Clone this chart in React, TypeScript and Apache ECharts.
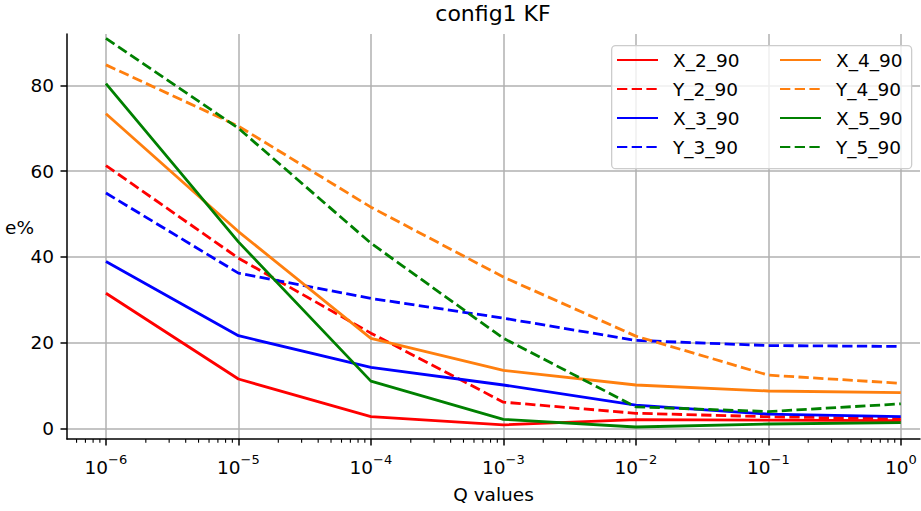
import React, { useEffect, useRef } from "react";
import * as echarts from "echarts";

const QExp = [-6, -5, -4, -3, -2, -1, 0];
const X_2_90 = [31.5, 11.5, 2.7, 0.8, 2.0, 1.9, 1.8];
const Y_2_90 = [61.3, 39.7, 22.2, 6.1, 3.5, 2.7, 2.2];
const X_3_90 = [38.9, 21.6, 14.2, 10.1, 5.4, 3.3, 2.7];
const Y_3_90 = [54.9, 36.2, 30.3, 25.7, 20.5, 19.3, 19.1];
const X_4_90 = [73.4, 45.9, 21.0, 13.5, 10.1, 8.7, 8.3];
const Y_4_90 = [84.8, 70.5, 51.6, 35.3, 21.5, 12.4, 10.5];
const X_5_90 = [80.4, 43.5, 11.0, 2.1, 0.3, 1.0, 1.3];
const Y_5_90 = [91.0, 70.0, 43.2, 21.0, 5.0, 3.9, 5.7];
const yTicks = [0, 20, 40, 60, 80];
const minorTicks: number[] = [];
for (let n = -7; n <= 0; n++) {
  for (let k = 2; k <= 9; k++) {
    const v = Math.log10(k) + n;
    if (v > -6.294 && v < 0.145) minorTicks.push(v);
  }
}

const FONT = "DejaVu Sans";
const RED = "#ff0000";
const BLUE = "#0000ff";
const ORANGE = "#ff7f0e";
const GREEN = "#008000";
const DASH = [10.3, 4.4];

export default function App() {
  const ref = useRef<HTMLDivElement>(null);
  useEffect(() => {
    if (!ref.current) return;
    const chart = echarts.init(ref.current, undefined, { renderer: "svg" });
    const mk = (name: string, vals: number[], color: string, dashed: boolean) => ({
      name,
      type: "line",
      data: QExp.map((e, i) => [e, vals[i]]),
      symbol: "none",
      z: 3,
      lineStyle: { color, width: 2.8, type: dashed ? DASH : "solid" },
      itemStyle: { color },
    });
    const legendBase = {
      orient: "vertical",
      top: 50,
      padding: 0,
      itemWidth: 41,
      itemHeight: 14,
      itemGap: 9,
      z: 5,
      itemStyle: { opacity: 0 },
      formatter: (name: string) => `{t|${name}}`,
      textStyle: {
        fontFamily: FONT,
        fontSize: 18.5,
        color: "#000",
        lineHeight: 20,
        rich: {
          t: { fontFamily: FONT, fontSize: 18.5, color: "#000", lineHeight: 20, padding: [0, 0, 0, 10] },
        },
      },
    };
    chart.setOption({
      animation: false,
      backgroundColor: "#fff",
      title: {
        text: "config1 KF",
        left: 493,
        top: 2,
        padding: 0,
        textAlign: "center",
        textStyle: { fontFamily: FONT, fontSize: 22, fontWeight: "normal", color: "#000" },
      },
      grid: { left: 67, top: 34, right: 1, bottom: 72, containLabel: false, outerBoundsMode: "none" },
      graphic: [
        {
          type: "rect",
          left: 611,
          top: 45,
          z: 4,
          shape: { width: 300, height: 123, r: 4 },
          style: { fill: "rgba(255,255,255,0.8)", stroke: "#cccccc", lineWidth: 1.3 },
        },
      ],
      legend: [
        { ...legendBase, left: 616, data: ["X_2_90", "Y_2_90", "X_3_90", "Y_3_90"] },
        { ...legendBase, left: 779, data: ["X_4_90", "Y_4_90", "X_5_90", "Y_5_90"] },
      ],
      xAxis: {
        type: "value",
        min: -6.294,
        max: 0.145,
        name: "Q values",
        nameLocation: "middle",
        nameGap: 46,
        nameMoveOverlap: false,
        nameTextStyle: { fontFamily: FONT, fontSize: 18.5, color: "#000" },
        axisLine: { onZero: false, lineStyle: { color: "#000", width: 1.5 } },
        axisTick: { customValues: QExp, length: 6.5, lineStyle: { color: "#000", width: 1.5 } },
        axisLabel: {
          customValues: QExp,
          margin: 14,
          formatter: (v: number) => `{b|10}{s|${v < 0 ? "\u2212" + -v : v}}`,
          rich: {
            b: { fontFamily: FONT, fontSize: 18.5, color: "#000", lineHeight: 24, verticalAlign: "bottom" },
            s: { fontFamily: FONT, fontSize: 13, color: "#000", verticalAlign: "top", lineHeight: 14 },
          },
        },
        splitLine: { show: true, lineStyle: { color: "#b0b0b0", width: 1.5 } },
      },
      yAxis: {
        type: "value",
        min: -2.5,
        max: 92,
        name: "e%",
        nameLocation: "middle",
        nameRotate: 0,
        nameGap: 33,
        nameMoveOverlap: false,
        nameTextStyle: { fontFamily: FONT, fontSize: 18.5, color: "#000", verticalAlign: "bottom" },
        axisLine: { show: true, onZero: false, lineStyle: { color: "#000", width: 1.5 } },
        axisTick: { show: true, customValues: yTicks, length: 6.5, lineStyle: { color: "#000", width: 1.5 } },
        axisLabel: {
          customValues: yTicks,
          margin: 13,
          fontFamily: FONT,
          fontSize: 18.5,
          color: "#000",
        },
        splitLine: { show: true, lineStyle: { color: "#b0b0b0", width: 1.5 } },
      },
      series: [
        mk("X_2_90", X_2_90, RED, false),
        mk("Y_2_90", Y_2_90, RED, true),
        mk("X_3_90", X_3_90, BLUE, false),
        mk("Y_3_90", Y_3_90, BLUE, true),
        mk("X_4_90", X_4_90, ORANGE, false),
        mk("Y_4_90", Y_4_90, ORANGE, true),
        mk("X_5_90", X_5_90, GREEN, false),
        mk("Y_5_90", Y_5_90, GREEN, true),
        {
          type: "custom",
          name: "minorTicks",
          silent: true,
          clip: false,
          data: minorTicks.map((v) => [v, -2.5]),
          renderItem: (params: any, api: any) => {
            const p = api.coord([api.value(0), api.value(1)]);
            return {
              type: "line",
              shape: { x1: p[0], y1: p[1], x2: p[0], y2: p[1] + 3.7 },
              style: { stroke: "#000", lineWidth: 1.1 },
            };
          },
        },
      ],
    });
    return () => chart.dispose();
  }, []);
  return (
    <div
      ref={ref}
      style={{ position: "absolute", left: 0, top: 0, width: 921, height: 511 }}
    />
  );
}
